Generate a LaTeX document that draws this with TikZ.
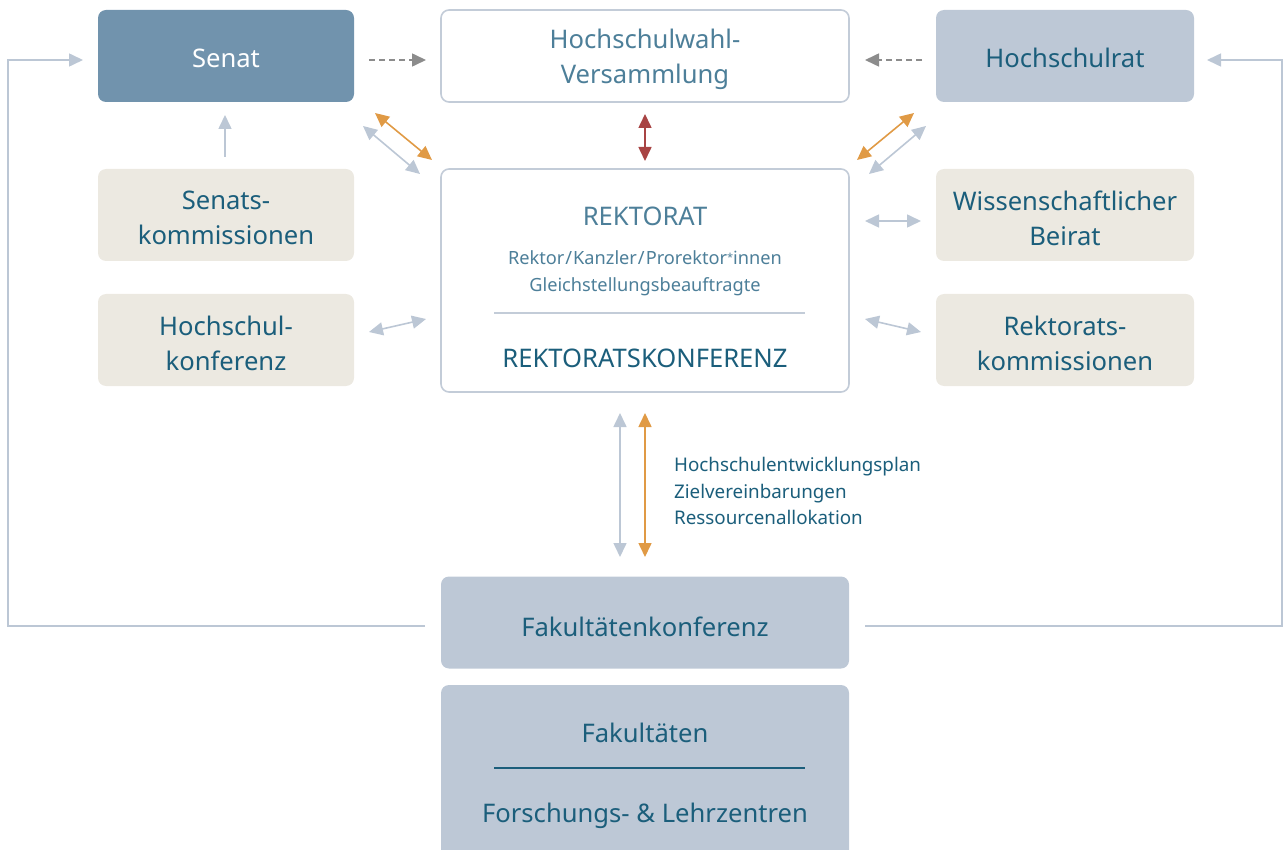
\documentclass[tikz,border=0pt]{standalone}
\usepackage{fontspec}
\setmainfont{Noto Sans}
\usetikzlibrary{arrows.meta}
\definecolor{dteal}{HTML}{1B5E7B}
\definecolor{mteal}{HTML}{4D7F99}
\definecolor{senatfill}{HTML}{7193AD}
\definecolor{lblue}{HTML}{BDC8D6}
\definecolor{beige}{HTML}{ECE9E1}
\definecolor{bord}{HTML}{C3CCD8}
\definecolor{agray}{HTML}{BCC7D5}
\definecolor{aorange}{HTML}{E09A45}
\definecolor{ared}{HTML}{A84444}
\definecolor{dgray}{HTML}{8C8C8C}
\tikzset{
  >={Triangle[length=7pt,width=6.5pt]},
  bigfont/.style={font=\fontsize{12.8}{17.5}\selectfont},
  box/.style={rounded corners=4pt, minimum width=128pt, minimum height=46pt, inner sep=0pt},
  lbl/.style={bigfont, text=dteal, align=center, inner sep=0pt},
  garrow/.style={draw=agray, line width=0.8pt, <->},
  oarrow/.style={draw=aorange, line width=0.8pt, <->},
}
\begin{document}
\begin{tikzpicture}[x=0.5pt,y=-0.5pt]
\clip (0,0) rectangle (1285,850);
% top row
\node[box, fill=senatfill] (senat) at (226,56) {};
\node[lbl, text=white] (senattext) at (226,58) {Senat};
\node[box, draw=bord, line width=0.8pt, fill=white, minimum width=204pt] (hwv) at (645,56) {};
\node[lbl, text=mteal] (hwvtext) at (645,59) {Hochschulwahl-\\Versammlung};
\node[box, fill=lblue, minimum width=129pt] (hrat) at (1065,56) {};
\node[lbl] (hrattext) at (1065,58) {Hochschulrat};
% side boxes
\node[box, fill=beige] (skom) at (226,215) {};
\node[lbl] (skomtext) at (226,218) {Senats-\\kommissionen};
\node[box, fill=beige, minimum width=129pt] (wb) at (1065,215) {};
\node[lbl] (wbtext) at (1065,218) {Wissenschaftlicher\\Beirat};
\node[box, fill=beige] (hk) at (226,340) {};
\node[lbl] (hktext) at (226,343) {Hochschul-\\konferenz};
\node[box, fill=beige, minimum width=129pt] (rkom) at (1065,340) {};
\node[lbl] (rkomtext) at (1065,343) {Rektorats-\\kommissionen};
% Rektorat
\node[box, draw=bord, line width=0.8pt, fill=white, minimum width=204pt, minimum height=111.5pt] (rek) at (645,280.5) {};
\node[lbl, text=mteal] (rektitle) at (645,216) {REKTORAT};
\node[lbl, text=mteal, font=\fontsize{9.1}{13.5}\selectfont] (reksub) at (645,273) {Rektor\kern0.5pt/\kern0.5pt Kanzler\kern0.5pt/\kern0.5pt Prorektor\raisebox{0.3ex}{\fontsize{5.5}{6}\selectfont*}innen\\Gleichstellungsbeauftragte};
\coordinate (rl1) at (494,313);
\coordinate (rl2) at (805,313);
\draw[bord, line width=0.8pt] (rl1) -- (rl2);
\node[lbl] (rkonf) at (645,358) {REKTORATSKONFERENZ};
% bottom
\node[box, fill=lblue, minimum width=204pt] (fk) at (645,622.5) {};
\node[lbl] (fktext) at (645,627) {Fakultätenkonferenz};
\node[box, fill=lblue, minimum width=204pt, minimum height=90pt] (fak) at (645,775) {};
\node[lbl] (faktitle) at (645,733) {Fakultäten};
\coordinate (fl1) at (494,768);
\coordinate (fl2) at (805,768);
\draw[dteal, line width=0.8pt] (fl1) -- (fl2);
\node[lbl] (fz) at (645,816) {Forschungs- \& Lehrzentren};
% dashed arrows
\coordinate (d1a) at (369,60); \coordinate (d1b) at (426,60);
\coordinate (d2a) at (922,60); \coordinate (d2b) at (865,60);
\draw[dgray, line width=0.8pt, dash pattern=on 3pt off 2pt, ->] (d1a) -- (d1b);
\draw[dgray, line width=0.8pt, dash pattern=on 3pt off 2pt, ->] (d2a) -- (d2b);
% diagonal arrows left
\coordinate (o1a) at (375,113); \coordinate (o1b) at (432,160);
\coordinate (g1a) at (363,126); \coordinate (g1b) at (420,174);
\draw[oarrow] (o1a) -- (o1b);
\draw[garrow] (g1a) -- (g1b);
% diagonal arrows right
\coordinate (o2a) at (914,113); \coordinate (o2b) at (857,160);
\coordinate (g2a) at (926,126); \coordinate (g2b) at (869,174);
\draw[oarrow] (o2a) -- (o2b);
\draw[garrow] (g2a) -- (g2b);
% red arrow
\coordinate (ra) at (645,114); \coordinate (rb) at (645,161);
\draw[ared, line width=0.8pt, <->] (ra) -- (rb);
% senatskommissionen to senat
\coordinate (sa) at (225,157); \coordinate (sb) at (225,115);
\draw[agray, line width=0.8pt, ->] (sa) -- (sb);
% horizontal side arrows
\coordinate (wa) at (865,221); \coordinate (wb2) at (921,221);
\draw[garrow] (wa) -- (wb2);
\coordinate (ha) at (369,332); \coordinate (hb) at (426,319);
\draw[garrow] (ha) -- (hb);
\coordinate (ka) at (865,319); \coordinate (kb) at (921,332);
\draw[garrow] (ka) -- (kb);
% vertical arrows
\coordinate (va) at (620,413); \coordinate (vb) at (620,557);
\coordinate (wa2) at (645,413); \coordinate (wb3) at (645,557);
\draw[garrow] (va) -- (vb);
\draw[oarrow] (wa2) -- (wb3);
\node[anchor=west, text=dteal, font=\fontsize{9.4}{13.2}\selectfont, align=left] (ziel) at (667,491) {Hochschulentwicklungsplan\\Zielvereinbarungen\\Ressourcenallokation};
% feedback lines
\coordinate (fbl1) at (425,626); \coordinate (fbl2) at (8,626); \coordinate (fbl3) at (8,60); \coordinate (fbl4) at (83,60);
\draw[agray, line width=0.8pt, ->] (fbl1) -- (fbl2) -- (fbl3) -- (fbl4);
\coordinate (fbr1) at (865,626); \coordinate (fbr2) at (1282,626); \coordinate (fbr3) at (1282,60); \coordinate (fbr4) at (1207,60);
\draw[agray, line width=0.8pt, ->] (fbr1) -- (fbr2) -- (fbr3) -- (fbr4);
\end{tikzpicture}
\end{document}
